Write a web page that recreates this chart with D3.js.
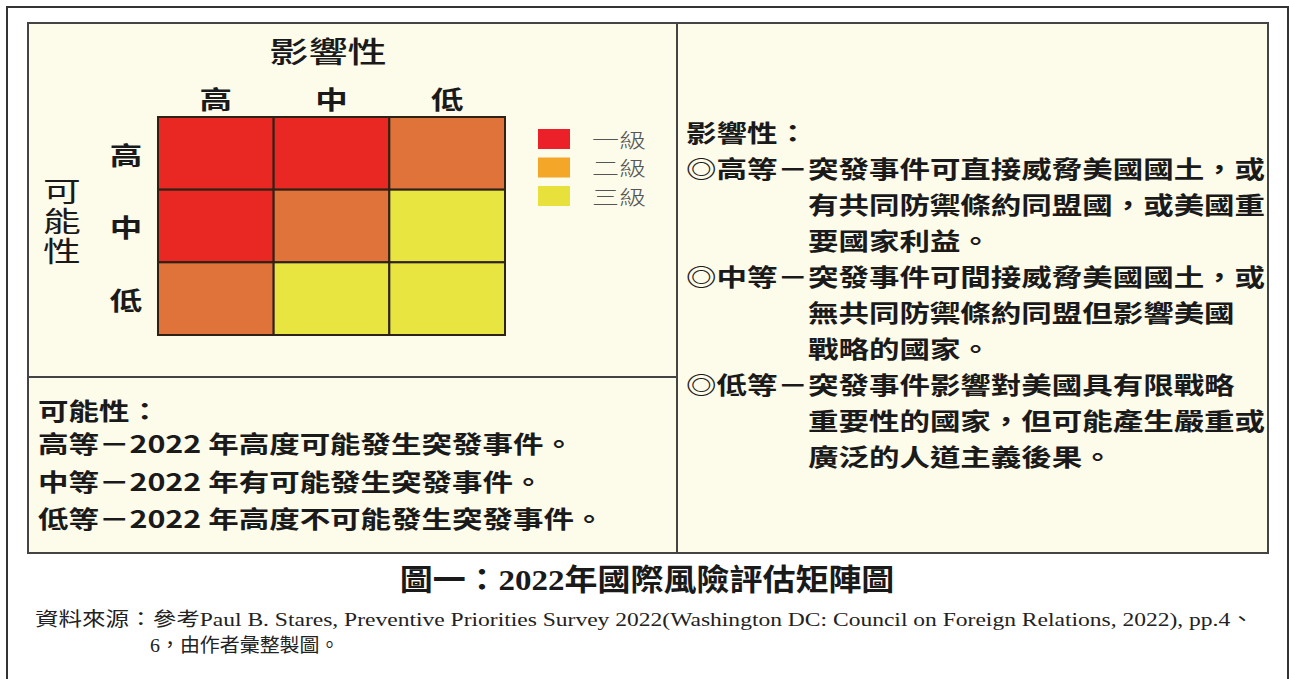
<!DOCTYPE html>
<html lang="zh-Hant">
<head>
<meta charset="UTF-8">
<title>2022年國際風險評估矩陣圖</title>
<script src="https://d3js.org/d3.v7.min.js"></script>
<style>
  body { margin: 0; background: #fff; }
</style>
</head>
<body>
<script>
// 矩陣資料
const impactLevels = ["高", "中", "低"];       // 影響性 (columns)
const likelihoodLevels = ["高", "中", "低"];   // 可能性 (rows)
const riskGrade = [[1, 1, 2], [1, 2, 3], [2, 3, 3]]; // 1 = 一級, 2 = 二級, 3 = 三級
const gradeLabels = ["一級", "二級", "三級"];
const cellColors = ["#e92823", "#e0733a", "#e8e440"];
const legendColors = ["#ec2028", "#f4a628", "#e8e13c"];

// 說明文字
const likelihoodTitle = "可能性：";
const likelihoodNotes = [
  "高等－2022 年高度可能發生突發事件。",
  "中等－2022 年有可能發生突發事件。",
  "低等－2022 年高度不可能發生突發事件。"
];
const impactTitle = "影響性：";
const impactNotes = [
  { head: "◎高等－", lines: ["突發事件可直接威脅美國國土，或", "有共同防禦條約同盟國，或美國重", "要國家利益。"] },
  { head: "◎中等－", lines: ["突發事件可間接威脅美國國土，或", "無共同防禦條約同盟但影響美國", "戰略的國家。"] },
  { head: "◎低等－", lines: ["突發事件影響對美國具有限戰略", "重要性的國家，但可能產生嚴重或", "廣泛的人道主義後果。"] }
];
const caption = "圖一：2022年國際風險評估矩陣圖";
const sourceLines = [
  "資料來源：參考Paul B. Stares, Preventive Priorities Survey 2022(Washington DC: Council on Foreign Relations, 2022), pp.4、",
  "6，由作者彙整製圖。"
];

const W = 1290, H = 679;
const CJK = '"Noto Sans CJK TC", "Noto Sans CJK SC", sans-serif';
const SERIF = '"Liberation Serif", "Noto Sans CJK TC", serif';

const svg = d3.select("body").append("svg")
  .attr("width", W)
  .attr("height", H);

// 文字輔助：水平拉寬，垂直置中
function label(x, y, str, size, opts = {}) {
  const t = svg.append("text")
    .attr("transform", `translate(${x},${y}) scale(${opts.sx || 1},1)`)
    .attr("dominant-baseline", "central")
    .attr("text-anchor", opts.anchor || "start")
    .attr("font-family", opts.family || CJK)
    .attr("font-size", size)
    .attr("font-weight", opts.weight || 400)
    .attr("fill", opts.fill || "#1a1a1a")
    .text(str);
  if (opts.fit) {
    const w = t.node().getComputedTextLength();
    t.attr("transform", `translate(${x},${y}) scale(${opts.fit / w},1)`);
  }
  return t;
}

// 外框
svg.append("path")
  .attr("d", `M7,${H} V7 H1288 V${H}`)
  .attr("fill", "none")
  .attr("stroke", "#333")
  .attr("stroke-width", 2);

// 內框
const box = { l: 28, t: 23, r: 1268, b: 553, mid: 677, split: 377 };
svg.append("rect")
  .attr("x", box.l).attr("y", box.t)
  .attr("width", box.r - box.l).attr("height", box.b - box.t)
  .attr("fill", "#fdfbea")
  .attr("stroke", "#444")
  .attr("stroke-width", 2);
svg.append("line")
  .attr("x1", box.mid).attr("x2", box.mid)
  .attr("y1", box.t).attr("y2", box.b)
  .attr("stroke", "#444").attr("stroke-width", 2);
svg.append("line")
  .attr("x1", box.l).attr("x2", box.mid)
  .attr("y1", box.split).attr("y2", box.split)
  .attr("stroke", "#444").attr("stroke-width", 2);

// 矩陣
const x = d3.scaleBand().domain(impactLevels).range([158, 505]);
const y = d3.scaleBand().domain(likelihoodLevels).range([117, 335]);
const color = d3.scaleOrdinal().domain([1, 2, 3]).range(cellColors);

const cells = [];
likelihoodLevels.forEach((r, i) => {
  impactLevels.forEach((c, j) => cells.push({ row: r, col: c, grade: riskGrade[i][j] }));
});

svg.append("g").selectAll("rect")
  .data(cells)
  .join("rect")
  .attr("x", d => x(d.col))
  .attr("y", d => y(d.row))
  .attr("width", x.bandwidth())
  .attr("height", y.bandwidth())
  .attr("fill", d => color(d.grade))
  .attr("stroke", "#2e2116")
  .attr("stroke-width", 2);

// 軸標題與刻度
label(328, 50, "影響性", 29, { anchor: "middle", sx: 1.35, weight: 500 });
impactLevels.forEach(c => label(x(c) + x.bandwidth() / 2, 98, c, 25, { anchor: "middle", sx: 1.3, weight: 700 }));
likelihoodLevels.forEach(r => label(126, y(r) + y.bandwidth() / 2, r, 25, { anchor: "middle", sx: 1.3, weight: 700 }));

// 直排「可能性」：一個 text，逐字換行
const vt = label(62, 189, "", 28, { anchor: "middle", sx: 1.35 });
vt.selectAll("tspan")
  .data(Array.from("可能性"))
  .join("tspan")
  .attr("x", 0)
  .attr("dy", (d, i) => i ? 30 : 0)
  .text(d => d);

// 圖例
gradeLabels.forEach((g, i) => {
  const ly = 129 + i * 28.5;
  svg.append("rect")
    .attr("x", 538).attr("y", ly)
    .attr("width", 32).attr("height", 20)
    .attr("fill", legendColors[i]);
  label(592, ly + 10, g, 20, { sx: 1.35, weight: 300, fill: "#555" });
});

// 可能性說明
const bodySize = 24, bodySx = 1.27;
label(38, 410, likelihoodTitle, bodySize, { sx: bodySx, weight: 700 });
likelihoodNotes.forEach((s, i) => label(38, 443 + i * 37.5, s, bodySize, { sx: bodySx, weight: 700 }));

// 影響性說明
label(686, 132, impactTitle, bodySize, { sx: bodySx, weight: 700 });
let li = 1;
impactNotes.forEach(n => {
  label(686, 132 + li * 35.9, n.head, bodySize, { sx: bodySx, weight: 700 });
  n.lines.forEach(s => {
    label(808, 132 + li * 35.9, s, bodySize, { sx: bodySx, weight: 700 });
    li++;
  });
});

// 圖題與資料來源
label(647, 580, caption, 30, { anchor: "middle", family: SERIF, weight: 700, sx: 1.1 });
label(35, 620, sourceLines[0], 19, { family: SERIF, fill: "#222", fit: 1220 });
label(150, 646, sourceLines[1], 19, { family: SERIF, fill: "#222", sx: 1.05 });
</script>
</body>
</html>
